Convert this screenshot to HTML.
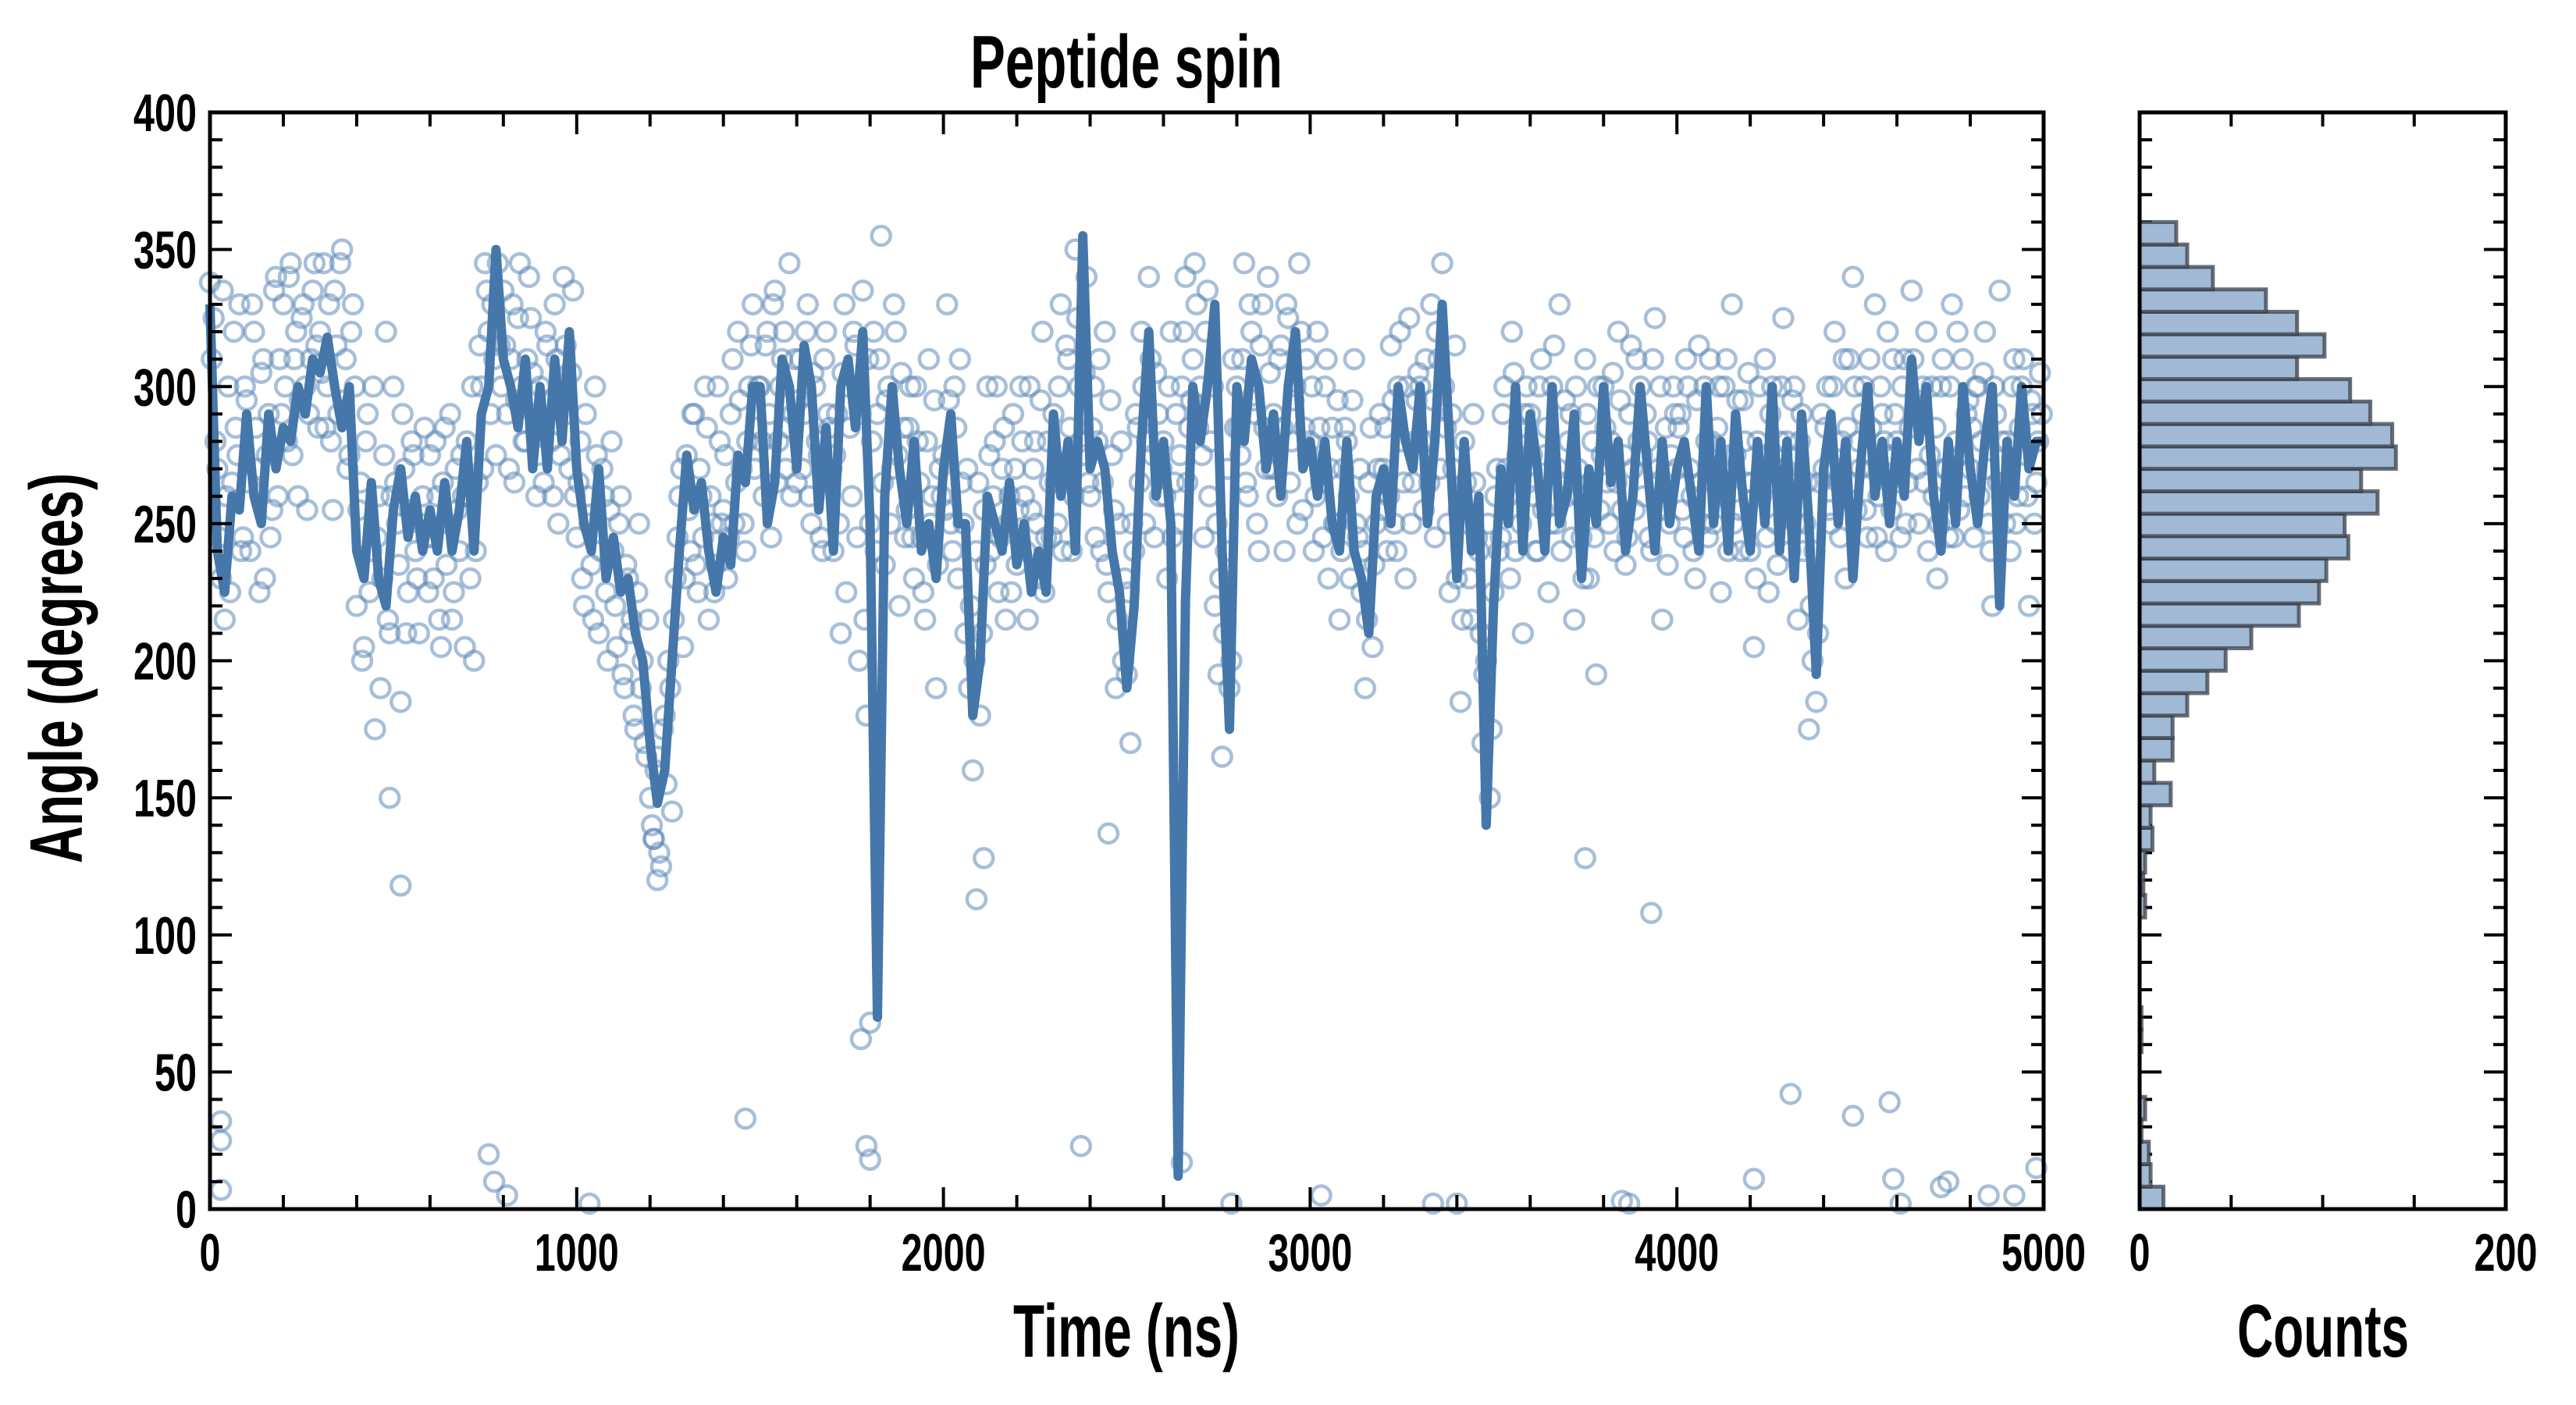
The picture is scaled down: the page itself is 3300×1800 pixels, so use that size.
<!DOCTYPE html>
<html><head><meta charset="utf-8"><style>
html,body{margin:0;padding:0;background:#fff;}
svg{display:block;}
text{font-family:"Liberation Sans Narrow","Liberation Sans",sans-serif;font-weight:bold;fill:#000;}
</style></head><body>
<svg id="chart" width="3300" height="1800" viewBox="0 0 3300 1800" xmlns="http://www.w3.org/2000/svg">
<text x="1443" y="112" font-size="96" text-anchor="middle" textLength="400" lengthAdjust="spacingAndGlyphs">Peptide spin</text>
<g id="main"></g>
<g id="hist"></g>
<text x="1443" y="1738" font-size="96" text-anchor="middle" textLength="290" lengthAdjust="spacingAndGlyphs">Time (ns)</text>
<text transform="translate(105,856) rotate(-90)" font-size="96" text-anchor="middle" textLength="500" lengthAdjust="spacingAndGlyphs">Angle (degrees)</text>
<text x="2976" y="1738" font-size="96" text-anchor="middle" textLength="220" lengthAdjust="spacingAndGlyphs">Counts</text>
</svg>
<script>
const lineStep = 20;
const lineValues = [330,240,225,260,255,290,260,250,290,270,285,280,300,290,310,305,318,300,285,300,
240,230,265,230,220,255,270,245,260,240,255,240,265,240,255,280,240,290,300,350,
310,300,285,310,270,300,270,310,280,320,270,250,240,270,230,245,225,230,210,200,
170,148,160,200,240,275,255,265,240,225,245,235,275,265,300,300,250,265,310,300,
270,315,300,255,285,240,300,310,285,320,250,70,260,300,270,250,280,240,250,230,
270,290,250,250,180,200,260,250,240,265,235,250,225,240,225,290,260,280,240,355,
270,280,270,240,225,190,220,280,320,260,280,250,12,222,300,280,300,330,240,175,
300,280,310,300,270,290,260,300,320,270,280,260,280,250,240,280,240,230,210,260,
270,250,300,280,270,300,250,280,330,280,230,280,240,260,140,220,270,250,300,240,
290,270,240,300,250,260,290,230,270,250,300,265,280,240,260,300,270,240,280,250,
270,280,260,240,300,250,280,240,290,260,240,280,250,300,240,280,230,290,250,195,
270,290,250,280,230,270,300,260,280,250,280,260,310,280,300,260,240,280,250,300,
270,250,280,300,220,280,260,300,270,280,280];
const scatterStep = 10;
const scatterValues = [338,325,270,230,215,300,265,285,330,245,295,240,320,270,305,230,290,255,340,310,
330,280,345,310,260,325,300,290,335,315,320,345,300,280,335,290,350,310,275,330,
220,265,205,290,240,175,260,230,320,210,300,250,185,270,225,280,240,210,260,245,
275,230,260,205,285,250,215,270,240,260,280,230,200,265,300,345,320,330,275,315,
335,290,310,265,325,300,280,340,305,260,300,265,315,280,330,250,295,315,270,335,
245,280,220,260,235,300,210,270,225,255,240,205,260,190,230,215,175,250,200,165,
150,135,165,125,180,200,145,230,260,205,275,240,290,225,260,300,215,250,235,280,
255,230,290,250,320,270,240,300,330,285,300,260,320,245,335,280,310,270,345,290,
265,310,290,330,250,300,275,240,320,285,240,290,210,330,300,260,315,200,335,180,
250,320,290,355,235,300,270,320,220,285,255,300,230,280,245,215,310,260,190,270,
275,330,250,300,230,265,210,190,160,240,180,255,300,240,280,225,270,215,260,290,
235,300,260,215,255,280,230,320,245,265,290,250,330,270,310,240,350,300,275,340,
260,300,280,240,320,225,275,190,250,200,195,170,240,285,320,250,340,275,305,260,
280,230,320,265,250,300,340,285,310,330,300,245,335,280,220,195,165,240,190,310,
300,275,345,260,320,290,240,330,270,305,290,260,315,240,325,280,300,345,255,310,
280,240,320,265,300,230,285,250,215,270,280,230,310,245,225,190,265,205,250,290,
270,240,315,250,300,280,230,325,265,295,300,255,280,330,245,310,345,285,225,270,
230,185,280,250,215,265,240,170,200,150,225,270,245,300,260,320,240,285,210,300,
290,260,240,310,275,225,300,250,330,265,260,290,215,270,245,310,230,280,195,255,
300,265,280,240,320,255,235,290,270,310,300,260,280,240,325,270,215,285,250,300,
270,290,245,300,260,230,315,250,280,310,250,285,225,300,240,330,275,255,295,265,
240,205,280,260,310,225,300,250,280,325,280,240,300,215,290,250,175,200,185,265,
270,300,250,320,265,280,230,310,340,255,270,300,245,285,330,260,290,240,275,310,
280,245,310,265,335,290,250,300,320,275,260,230,300,270,245,330,280,255,310,290,
270,245,300,280,320,250,220,290,335,265,280,240,310,260,300,275,220,290,265,305];
const scatterOffset2 = 5;
const scatterValues2 = [310,280,245,335,260,225,320,275,240,300,265,330,285,225,310,275,245,335,260,290,
300,340,275,320,295,330,255,310,345,285,305,285,330,255,315,345,295,270,320,300,
255,200,280,225,300,245,190,275,215,260,265,235,290,210,255,275,230,250,285,225,
245,280,215,265,235,290,225,255,275,205,260,300,240,315,270,335,290,310,345,300,
315,270,330,295,345,280,310,325,290,275,285,320,295,260,310,275,340,290,305,260,
265,230,290,250,215,275,240,260,200,280,220,250,195,235,210,180,225,190,170,215,
140,160,130,175,155,190,215,245,270,230,255,290,235,270,245,285,260,225,300,250,
275,245,310,265,295,250,280,315,270,300,280,315,290,330,265,300,320,285,260,310,
295,270,320,260,305,280,245,310,290,270,275,250,305,225,285,320,245,290,215,310,
280,240,310,265,295,250,330,275,305,245,285,245,300,265,225,280,250,295,235,260,
255,295,240,285,310,250,270,220,200,265,210,235,275,260,300,245,285,250,225,270,
255,280,240,300,270,250,295,225,280,245,265,300,240,315,285,260,325,280,305,265,
285,245,310,265,235,295,255,215,280,230,225,250,290,265,300,280,310,245,290,270,
260,300,245,290,275,320,265,295,345,285,275,320,260,300,250,230,210,270,200,285,
285,310,265,330,295,250,315,285,340,270,270,310,285,330,265,295,250,320,285,275,
300,260,285,245,310,270,250,295,240,285,260,295,250,270,240,215,285,235,270,255,
285,260,295,240,320,265,300,250,280,305,280,310,265,295,320,270,300,250,290,315,
255,215,265,230,290,245,210,195,250,175,260,240,290,270,230,305,275,250,290,265,
275,240,300,255,285,250,315,270,240,295,280,245,300,260,230,290,265,245,300,275,
285,250,305,265,295,275,245,315,255,280,275,290,245,310,265,300,255,235,275,290,
285,255,310,270,240,295,265,300,245,280,270,300,260,310,275,250,295,240,280,305,
265,230,300,275,245,290,265,235,300,270,260,295,250,280,240,265,220,240,210,290,
285,255,300,270,245,310,285,265,300,280,290,255,310,270,245,300,280,320,255,290,
265,300,250,285,310,270,295,265,240,300,285,250,310,270,300,245,320,275,260,295,
285,300,260,305,270,240,300,265,280,250,265,300,250,285,310,260,295,250,280,290];
const outlierTimes = [30,30,30,520,490,760,775,810,1035,1460,1775,1790,1800,2375,2650,2785,3030,3335,3400,3850,3870,3930,4210,4310,4480,4580,4590,4610,4720,4740,4850,4980,4920,1220,1210,3750,2090,2110,2450,1800];
const outlierValues = [32,25,7,118,150,20,10,5,2,33,62,23,18,23,17,2,5,2,2,3,2,108,11,42,34,39,11,2,8,10,5,15,5,120,135,128,113,128,137,68];
const histBinWidth = 360/44;
const histCounts = [13,6,5,1,3,0,0,1,1,0,0,0,0,3,2,3,7,6,17,8,18,18,26,37,47,61,87,98,102,114,112,130,121,140,138,126,115,86,101,86,69,40,26,20];
const xTickLabels = ['0','1000','2000','3000','4000','5000'];
const yTickLabels = ['0','50','100','150','200','250','300','350','400'];
const countTickLabels = ['0','200'];

const NS='http://www.w3.org/2000/svg';
const L=269,R=2618,T=144,B=1549,HL=2741,HR=3210;
const xs=t=>L+(t/5000)*(R-L);
const ys=a=>B-(a/400)*(B-T);
const hx=c=>HL+(c/200)*(HR-HL);
function mk(tag,parent,attrs){const e=document.createElementNS(NS,tag);for(const k in attrs)e.setAttribute(k,attrs[k]);parent.appendChild(e);return e;}
const main=document.getElementById('main');
const hist=document.getElementById('hist');

const sg=mk('g',main,{});


function dot(t,v){const c=mk('circle',sg,{cx:xs(t),cy:ys(v),r:12,fill:'none',stroke:'#5f8ab8','stroke-width':4.5,'stroke-opacity':0.55});

}
scatterValues.forEach((v,i)=>dot(i*scatterStep,v));
scatterValues2.forEach((v,i)=>dot(i*scatterStep+scatterOffset2,v));
outlierTimes.forEach((t,i)=>dot(t,outlierValues[i]));

const pts=lineValues.map((v,i)=>xs(i*lineStep)+','+ys(v)).join(' ');
const pl=mk('polyline',main,{points:pts,fill:'none',stroke:'#4577aa','stroke-width':12,'stroke-linejoin':'round'});



function frame(parent,x0,x1,name){const r=mk('rect',parent,{x:x0,y:T,width:x1-x0,height:B-T,fill:'none',stroke:'#000','stroke-width':5});

}
frame(main,L,R,'main-plot-frame');
const tg=mk('g',main,{stroke:'#000','stroke-width':4});


for(let t=0;t<=5000;t+=200){const len=(t%1000===0)?28:18;const x=xs(t);
 mk('line',tg,{x1:x,x2:x,y1:B,y2:B-len});mk('line',tg,{x1:x,x2:x,y1:T,y2:T+len});}
for(let a=0;a<=400;a+=10){const len=(a%50===0)?28:16;const y=ys(a);
 mk('line',tg,{x1:L,x2:L+len,y1:y,y2:y});mk('line',tg,{x1:R,x2:R-len,y1:y,y2:y});
 mk('line',tg,{x1:HL,x2:HL+len,y1:y,y2:y});mk('line',tg,{x1:HR,x2:HR-len,y1:y,y2:y});}
xTickLabels.forEach((s,i)=>{const e=mk('text',main,{x:xs(i*1000),y:1628,'font-size':68,'text-anchor':'middle',textLength:s.length*27,lengthAdjust:'spacingAndGlyphs'});e.textContent=s;

});
yTickLabels.forEach((s,i)=>{const e=mk('text',main,{x:252,y:ys(i*50)+24,'font-size':68,'text-anchor':'end',textLength:s.length*27,lengthAdjust:'spacingAndGlyphs'});e.textContent=s;

});

const hb=mk('g',hist,{});


histCounts.forEach((c,i)=>{if(c<=0)return;const y0=ys((i+1)*histBinWidth),y1=ys(i*histBinWidth);
 const r=mk('rect',hb,{x:HL,y:y0,width:hx(c)-HL,height:y1-y0,fill:'#a0b9d4',stroke:'#3a3f48','stroke-width':5,'stroke-opacity':0.75});
 
 });
frame(hist,HL,HR,'histogram-frame');
const hg=mk('g',hist,{stroke:'#000','stroke-width':4});


for(let c=50;c<200;c+=50){const x=hx(c);mk('line',hg,{x1:x,x2:x,y1:B,y2:B-18});mk('line',hg,{x1:x,x2:x,y1:T,y2:T+18});}
countTickLabels.forEach((s,i)=>{const e=mk('text',hist,{x:hx(i*200),y:1628,'font-size':68,'text-anchor':'middle',textLength:s.length*27,lengthAdjust:'spacingAndGlyphs'});e.textContent=s;

});
</script>
</body></html>
